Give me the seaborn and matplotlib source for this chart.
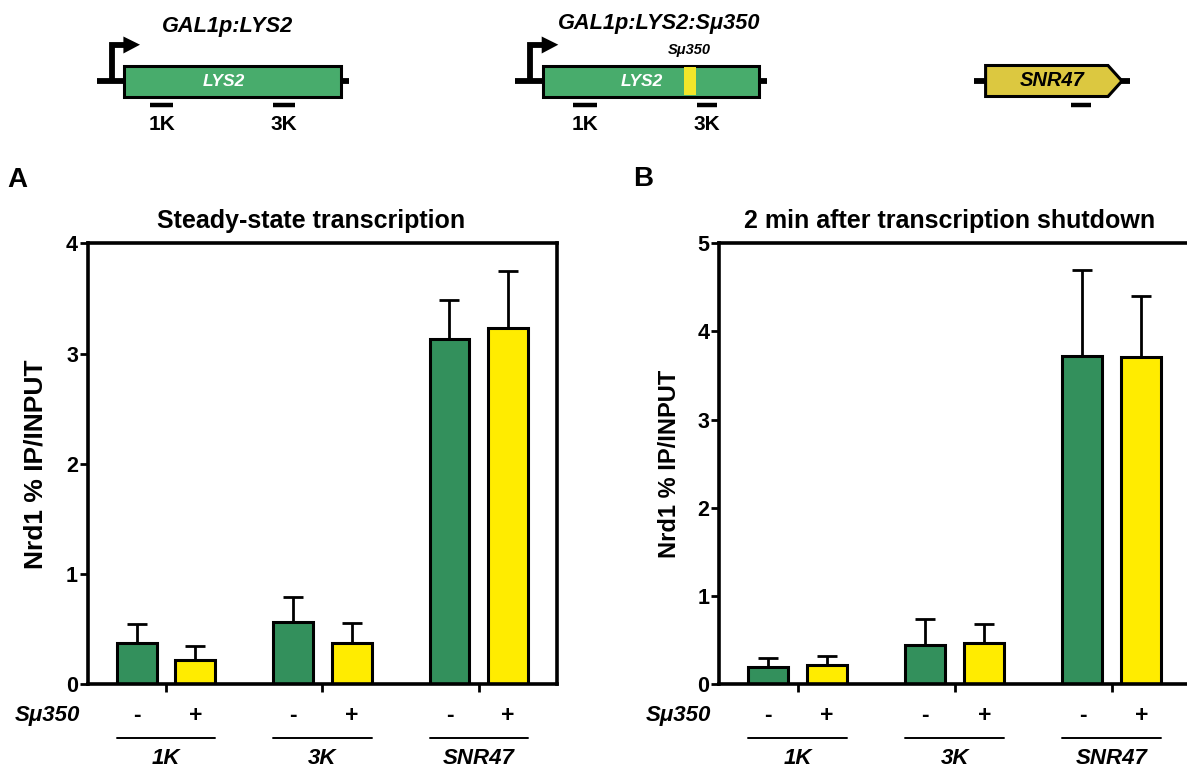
import numpy as np
import pandas as pd
import matplotlib
matplotlib.use("Agg")
import matplotlib.pyplot as plt
import matplotlib.transforms as mtransforms
from matplotlib.patches import Rectangle, Polygon
from matplotlib.container import BarContainer
import seaborn as sns

# ---------------- data ----------------
probes = ["1K", "3K", "SNR47"]
su_levels = ["-", "+"]

A_minus = [0.375, 0.565, 3.13]
A_minus_err = [0.172, 0.225, 0.36]
A_plus = [0.22, 0.375, 3.23]
A_plus_err = [0.127, 0.18, 0.52]

B_minus = [0.196, 0.44, 3.72]
B_minus_err = [0.104, 0.305, 0.98]
B_plus = [0.215, 0.47, 3.71]
B_plus_err = [0.105, 0.21, 0.69]

A_ticks = [0, 1, 2, 3, 4]
B_ticks = [0, 1, 2, 3, 4, 5]

titleA = "Steady-state transcription"
titleB = "2 min after transcription shutdown"
ylabel = "Nrd1 % IP/INPUT"

GREEN = "#33905C"
YELLOW = "#FFEC00"
GENE_GREEN = "#48AC6C"
STRIPE = "#F2E62A"
SNR_COL = "#DCC840"

sns.set_style("white")
plt.rcParams["font.family"] = ["Liberation Sans", "DejaVu Sans"]
plt.rcParams["font.weight"] = "bold"
for k in ["text.color", "axes.labelcolor", "xtick.color", "ytick.color", "axes.edgecolor"]:
    plt.rcParams[k] = "black"

W, H = 1187, 771
fig = plt.figure(figsize=(W / 100, H / 100), dpi=100)


def px_axes(l, r, t, b):
    return fig.add_axes([l / W, 1 - b / H, (r - l) / W, (b - t) / H])


def panel(ax, minus, minus_err, plus, plus_err, ticks, title, title_dx, ylab_x, ylab_fs):
    df = pd.DataFrame({
        "probe": probes * 2,
        "su": [su_levels[0]] * 3 + [su_levels[1]] * 3,
        "value": list(minus) + list(plus),
    })
    sns.barplot(data=df, x="probe", y="value", hue="su", order=probes,
                hue_order=su_levels, palette={"-": GREEN, "+": YELLOW},
                width=0.75, gap=0.32, saturation=1, edgecolor="black",
                linewidth=2.2, errorbar=None, legend=False, ax=ax, zorder=2)
    bars = [c for c in ax.containers if isinstance(c, BarContainer)]
    errs = [minus_err, plus_err]
    vals = [minus, plus]
    for h, cont in enumerate(bars):
        xs = [p.get_x() + p.get_width() / 2 for p in cont.patches]
        ax.errorbar(xs, vals[h], yerr=[np.zeros(3), errs[h]], fmt="none",
                    ecolor="black", elinewidth=2.0, capsize=7, capthick=2.0,
                    zorder=1)
    ax.set_xlim(-0.5, 2.5)
    ax.set_ylim(0, ticks[-1])
    ax.set_yticks(ticks)
    ax.set_yticklabels([str(t) for t in ticks], fontsize=15.5, fontweight="bold")
    ax.set_xticks(range(3))
    ax.set_xticklabels([])
    ax.set_xlabel("")
    ax.set_ylabel(ylabel, fontsize=ylab_fs, fontweight="bold")
    ax.yaxis.set_label_coords(ylab_x, 0.5)
    ax.tick_params(axis="both", direction="out", length=5.5, width=2, color="black",
                   left=True, bottom=True, pad=1.5)
    for s in ax.spines.values():
        s.set_linewidth(2.6)
        s.set_color("black")
    ax.text(0.5 + title_dx, 1.05, title, transform=ax.transAxes, ha="center",
            va="center", fontsize=18, fontweight="bold")

    # annotation rows below axis
    tr = mtransforms.blended_transform_factory(ax.transData, ax.transAxes)
    ax.text(-0.016, -0.071, "S\u03bc350", transform=ax.transAxes, ha="right",
            va="center", fontsize=16, fontweight="bold", style="italic")
    for i, name in enumerate(probes):
        pm = bars[0].patches[i]
        pp = bars[1].patches[i]
        ax.text(pm.get_x() + pm.get_width() / 2, -0.071, su_levels[0], transform=tr,
                ha="center", va="center", fontsize=16.5, fontweight="bold")
        ax.text(pp.get_x() + pp.get_width() / 2, -0.071, su_levels[1], transform=tr,
                ha="center", va="center", fontsize=16.5, fontweight="bold")
        x0 = pm.get_x()
        x1 = pp.get_x() + pp.get_width()
        ax.plot([x0, x1], [-0.122, -0.122], transform=tr, color="black",
                lw=1.4, clip_on=False)
        ax.text(i, -0.168, name, transform=tr, ha="center", va="center",
                fontsize=16, fontweight="bold", style="italic")


axA = px_axes(87.7, 557, 243.3, 684.3)
panel(axA, A_minus, A_minus_err, A_plus, A_plus_err, A_ticks, titleA, -0.024, -0.085, 19)
axB = px_axes(719, 1190.5, 243.3, 684.3)
panel(axB, B_minus, B_minus_err, B_plus, B_plus_err, B_ticks, titleB, -0.01, -0.081, 17)

fig.text(7.5 / W, 1 - 180 / H, "A", fontsize=20, fontweight="bold", ha="left", va="center")
fig.text(633 / W, 1 - 179 / H, "B", fontsize=20, fontweight="bold", ha="left", va="center")

# ---------------- gene diagrams (illustration overlay) ----------------
ov = fig.add_axes([0, 0, 1, 1], zorder=-1)
ov.set_xlim(0, W)
ov.set_ylim(H, 0)
ov.axis("off")


def lys2_diagram(x0, title, title_x, title_y, probe_pos, stripe=False):
    bw = 216.6
    ov.plot([x0 - 27.5, x0 + bw + 8], [80.5, 80.5], color="black", lw=4.2,
            solid_capstyle="butt", zorder=1)
    # promoter arrow
    xa = x0 - 12.7
    ov.plot([xa, xa, x0 + 1], [80.5, 44.7, 44.7], color="black", lw=4.2,
            solid_joinstyle="miter", solid_capstyle="butt", zorder=1)
    ov.add_patch(Polygon([[x0 - 1, 36.5], [x0 + 15.6, 44.7], [x0 - 1, 53.5]],
                         closed=True, facecolor="black", edgecolor="none", zorder=2))
    ov.add_patch(Rectangle((x0, 65.5), bw, 31, facecolor=GENE_GREEN,
                           edgecolor="black", lw=2.2, zorder=3))
    if stripe:
        ov.add_patch(Rectangle((x0 + 141.6, 67), 11.7, 28, facecolor=STRIPE,
                               edgecolor="none", zorder=4))
        ov.text(x0 + 146.5, 50, "S\u03bc350", ha="center", va="center",
                fontsize=10.5, fontweight="bold", style="italic")
    ov.text(x0 + 99, 81, "LYS2", color="white", ha="center", va="center",
            fontsize=12.5, fontweight="bold", style="italic", zorder=5)
    for px0, px1, lab in probe_pos:
        ov.plot([px0, px1], [105, 105], color="black", lw=3.2, solid_capstyle="butt")
        ov.text((px0 + px1) / 2, 125, lab, ha="center", va="center",
                fontsize=15, fontweight="bold")
    ov.text(title_x, title_y, title, ha="center", va="center", fontsize=15.7,
            fontweight="bold", style="italic")


lys2_diagram(124.4, "GAL1p:LYS2", 228, 26.5,
             [(150, 173, "1K"), (273, 295, "3K")])
lys2_diagram(542.7, "GAL1p:LYS2:S\u03bc350", 659, 24,
             [(573, 596.7, "1K"), (696.7, 716.7, "3K")], stripe=True)

# SNR47 gene
ov.plot([974, 1130], [80.5, 80.5], color="black", lw=4.2, solid_capstyle="butt", zorder=1)
ov.add_patch(Polygon([[985.6, 65.5], [1108, 65.5], [1122, 81], [1108, 96.5], [985.6, 96.5]],
                     closed=True, facecolor=SNR_COL, edgecolor="black", lw=2.2, zorder=3))
ov.text(1052, 81, "SNR47", ha="center", va="center", fontsize=14.5, fontweight="bold",
        style="italic", zorder=5)
ov.plot([1071, 1091], [104.5, 104.5], color="black", lw=3.2, solid_capstyle="butt")

fig.savefig("out.png", dpi=100)
